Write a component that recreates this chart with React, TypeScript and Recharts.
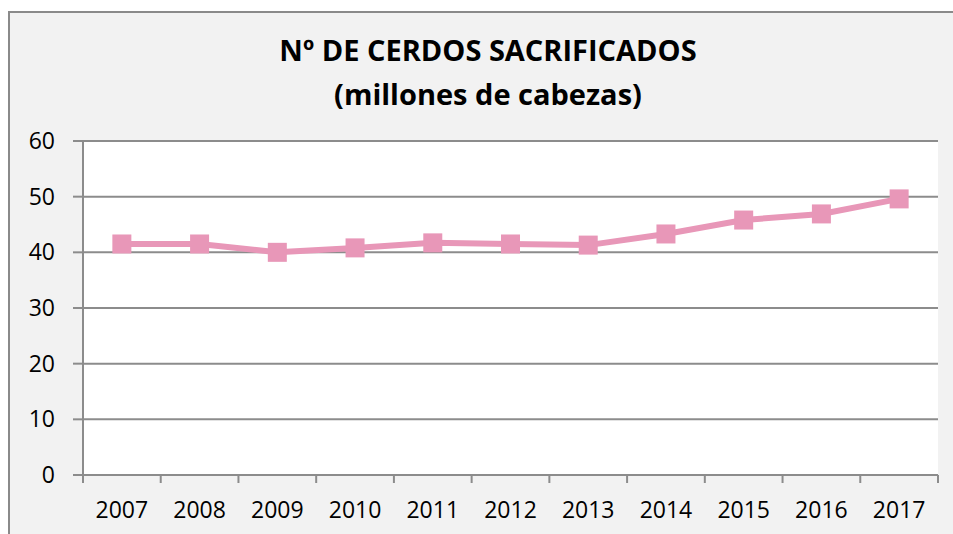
import React from 'react';
import { LineChart, Line, XAxis, YAxis, CartesianGrid } from 'recharts';

// años y cerdos sacrificados (millones de cabezas)
const years = ['2007', '2008', '2009', '2010', '2011', '2012', '2013', '2014', '2015', '2016', '2017'];
const cerdos = [41.5, 41.5, 40.0, 40.8, 41.7, 41.5, 41.3, 43.3, 45.8, 46.9, 49.6];
const yTicks = [0, 10, 20, 30, 40, 50, 60];

const data = years.map((year, i) => ({ year, value: cerdos[i] }));

const FONT = '"Open Sans", sans-serif';
const PINK = '#e897b8';
const AXIS = '#8c8c8c';
const HALF = 855 / years.length / 2;

// Excel-style category ticks: tick marks sit between categories
const XTick = (props: any) => {
  const { x, y, payload, index } = props;
  return (
    <g>
      <line x1={x - HALF} y1={y - 8} x2={x - HALF} y2={y} stroke={AXIS} strokeWidth={2} />
      {index === years.length - 1 && (
        <line x1={x + HALF} y1={y - 8} x2={x + HALF} y2={y} stroke={AXIS} strokeWidth={2} />
      )}
      <text x={x} y={y + 35} textAnchor="middle" fill="#000" fontSize={23} fontFamily={FONT}>
        {payload.value}
      </text>
    </g>
  );
};

const Square = (props: any) => {
  const { cx, cy } = props;
  if (cx == null || cy == null) return null;
  return <rect x={cx - 9.5} y={cy - 9.5} width={19} height={19} fill={PINK} />;
};

const App = () => {
  return (
    <div style={{ position: 'absolute', left: 0, top: 0, width: 953, height: 534, overflow: 'hidden', background: '#fff' }}>
      <div
        style={{
          position: 'absolute',
          left: 8,
          top: 11,
          width: 980,
          height: 560,
          border: '2px solid #8a8a8a',
          background: '#f2f2f2',
        }}
      />
      <div
        style={{
          position: 'absolute',
          left: 0,
          top: 28,
          width: 976,
          textAlign: 'center',
          fontFamily: FONT,
          fontWeight: 'bold',
          fontSize: 29,
          lineHeight: '44px',
          color: '#000',
        }}
      >
        <div>Nº DE CERDOS SACRIFICADOS</div>
        <div>(millones de cabezas)</div>
      </div>
      <div style={{ position: 'absolute', left: 0, top: 0 }}>
        <LineChart width={953} height={534} data={data} margin={{ top: 141, right: 15, bottom: 9, left: 23 }}>
          <CartesianGrid horizontal vertical={false} fill="#fff" stroke={AXIS} strokeWidth={2} />
          <XAxis
            dataKey="year"
            stroke={AXIS}
            strokeWidth={2}
            height={50}
            tickLine={false}
            interval={0}
            padding={{ left: HALF, right: HALF }}
            tick={<XTick />}
          />
          <YAxis
            domain={[0, 60]}
            ticks={yTicks}
            width={60}
            stroke={AXIS}
            strokeWidth={2}
            tickSize={10}
            tickMargin={18}
            tick={{ fill: '#000', fontSize: 23, fontFamily: FONT }}
          />
          <Line
            dataKey="value"
            stroke={PINK}
            strokeWidth={6}
            dot={<Square />}
            activeDot={false}
            isAnimationActive={false}
          />
        </LineChart>
      </div>
    </div>
  );
};

export default App;
